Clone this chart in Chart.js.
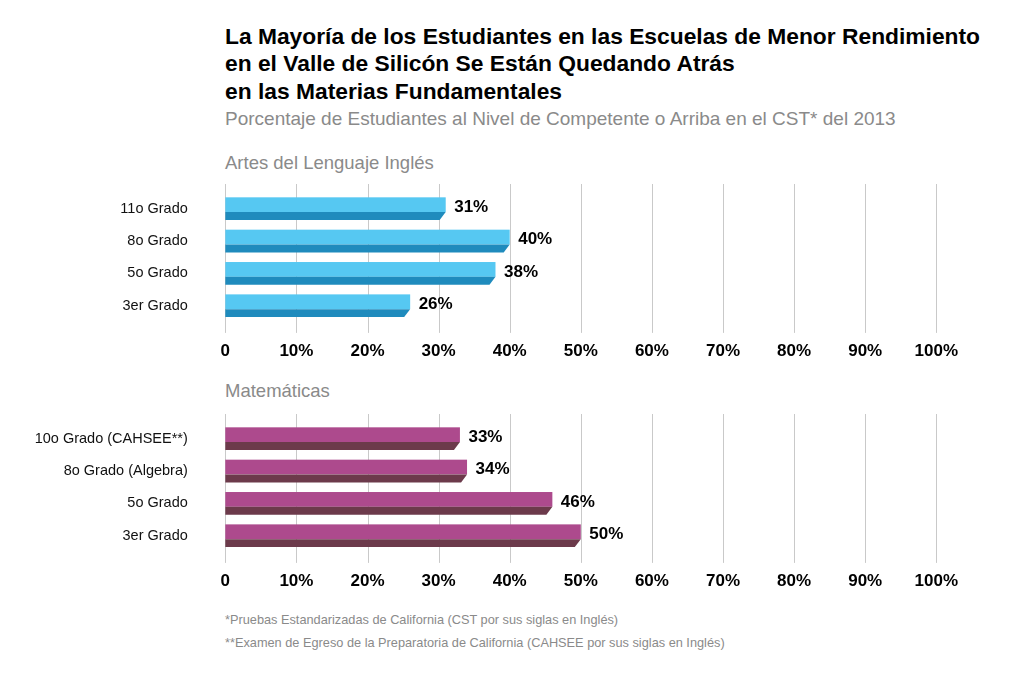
<!DOCTYPE html>
<html>
<head>
<meta charset="utf-8">
<script src="https://cdn.jsdelivr.net/npm/chart.js@4"></script>
<style>
  html, body { margin: 0; padding: 0; background: #fff; }
  body { width: 1020px; height: 689px; position: relative; overflow: hidden; font-family: "Liberation Sans", Arial, sans-serif; }
  .t { position: absolute; left: 225px; white-space: nowrap; }
  #title { top: 23px; font-size: 22.8px; font-weight: bold; line-height: 27.3px; color: #000; }
  #subtitle { top: 108px; font-size: 19px; color: #8a8a8a; }
  .sec { font-size: 18.5px; color: #8a8a8a; }
  #sec1 { top: 152px; }
  #sec2 { top: 380px; }
  .foot { font-size: 12.75px; color: #8a8a8a; }
  #f1 { top: 612px; }
  #f2 { top: 635px; }
  .cw { position: absolute; left: 0; width: 1020px; height: 230px; }
  #c1w { top: 140px; }
  #c2w { top: 370px; }
</style>
</head>
<body>
<div class="t" id="title">La Mayoría de los Estudiantes en las Escuelas de Menor Rendimiento<br>en el Valle de Silicón Se Están Quedando Atrás<br>en las Materias Fundamentales</div>
<div class="t" id="subtitle">Porcentaje de Estudiantes al Nivel de Competente o Arriba en el CST* del 2013</div>
<div class="t sec" id="sec1">Artes del Lenguaje Inglés</div>
<div class="t sec" id="sec2">Matemáticas</div>
<div class="t foot" id="f1">*Pruebas Estandarizadas de California (CST por sus siglas en Inglés)</div>
<div class="t foot" id="f2">**Examen de Egreso de la Preparatoria de California (CAHSEE por sus siglas en Inglés)</div>
<div class="cw" id="c1w"><canvas id="c1"></canvas></div>
<div class="cw" id="c2w"><canvas id="c2"></canvas></div>
<script>
const elaCategories = ['11o Grado', '8o Grado', '5o Grado', '3er Grado'];
const elaValues = [31, 40, 38, 26];
const mathCategories = ['10o Grado (CAHSEE**)', '8o Grado (Algebra)', '5o Grado', '3er Grado'];
const mathValues = [33, 34, 46, 50];
const xTickValues = [0, 10, 20, 30, 40, 50, 60, 70, 80, 90, 100];
const xTickLabels = ['0', '10%', '20%', '30%', '40%', '50%', '60%', '70%', '80%', '90%', '100%'];

const FONT = '"Liberation Sans", Arial, sans-serif';

const gridPlugin = {
  id: 'extGrid',
  beforeDatasetsDraw(chart) {
    const { ctx, chartArea, scales } = chart;
    const xs = scales.x;
    ctx.save();
    ctx.strokeStyle = '#c9c9c9';
    ctx.lineWidth = 1;
    xTickValues.forEach(v => {
      const px = Math.round(xs.getPixelForValue(v)) + 0.5;
      ctx.beginPath();
      ctx.moveTo(px, chartArea.top - 8.5);
      ctx.lineTo(px, chartArea.bottom + 11);
      ctx.stroke();
    });
    ctx.restore();
  }
};

const bar3dPlugin = {
  id: 'bar3d',
  afterDatasetsDraw(chart) {
    const { ctx } = chart;
    const ds = chart.data.datasets[0];
    const meta = chart.getDatasetMeta(0);
    ctx.save();
    meta.data.forEach((el, i) => {
      const p = el.getProps(['x', 'y', 'base', 'height'], true);
      const top = p.y - p.height / 2;
      const bottom = p.y + p.height / 2;
      const split = top + p.height * 0.65;
      const x0 = p.base, x1 = p.x;
      ctx.fillStyle = ds.lightColor;
      ctx.fillRect(x0, top, x1 - x0, split - top);
      ctx.fillStyle = ds.darkColor;
      ctx.beginPath();
      ctx.moveTo(x0, split);
      ctx.lineTo(x1, split);
      ctx.lineTo(x1 - 6, bottom);
      ctx.lineTo(x0, bottom);
      ctx.closePath();
      ctx.fill();
      ctx.fillStyle = '#000';
      ctx.font = 'bold 17px ' + FONT;
      ctx.textAlign = 'left';
      ctx.textBaseline = 'middle';
      ctx.fillText(ds.data[i] + '%', x1 + 8.5, p.y - 1.5);
    });
    ctx.restore();
  }
};

function makeChart(id, labels, values, light, dark) {
  return new Chart(document.getElementById(id), {
    type: 'bar',
    data: {
      labels: labels,
      datasets: [{
        data: values,
        backgroundColor: 'rgba(0,0,0,0)',
        borderWidth: 0,
        barThickness: 22.7,
        lightColor: light,
        darkColor: dark
      }]
    },
    options: {
      indexAxis: 'y',
      responsive: true,
      maintainAspectRatio: false,
      animation: false,
      events: [],
      layout: { padding: { top: 52.5, right: 83.7, left: 0, bottom: 0 } },
      plugins: { legend: { display: false }, tooltip: { enabled: false } },
      scales: {
        x: {
          type: 'linear',
          min: 0, max: 100,
          afterBuildTicks(scale) { scale.ticks = xTickValues.map(v => ({ value: v })); },
          afterFit(scale) { scale.height = 48.1; },
          grid: { display: false, drawTicks: false },
          border: { display: false },
          ticks: {
            padding: 19,
            color: '#000',
            font: { family: FONT, size: 17, weight: 'bold' },
            maxRotation: 0,
            autoSkip: false,
            callback: (v) => xTickLabels[xTickValues.indexOf(v)]
          }
        },
        y: {
          afterFit(scale) { scale.width = 225.3; },
          grid: { display: false, drawTicks: false },
          border: { display: false },
          ticks: {
            padding: 37.5,
            color: '#111',
            font: { family: FONT, size: 14.5 }
          }
        }
      }
    },
    plugins: [gridPlugin, bar3dPlugin]
  });
}

makeChart('c1', elaCategories, elaValues, '#56c8f2', '#1f8bbd');
makeChart('c2', mathCategories, mathValues, '#ad4a8d', '#6c3a4b');
</script>
</body>
</html>
